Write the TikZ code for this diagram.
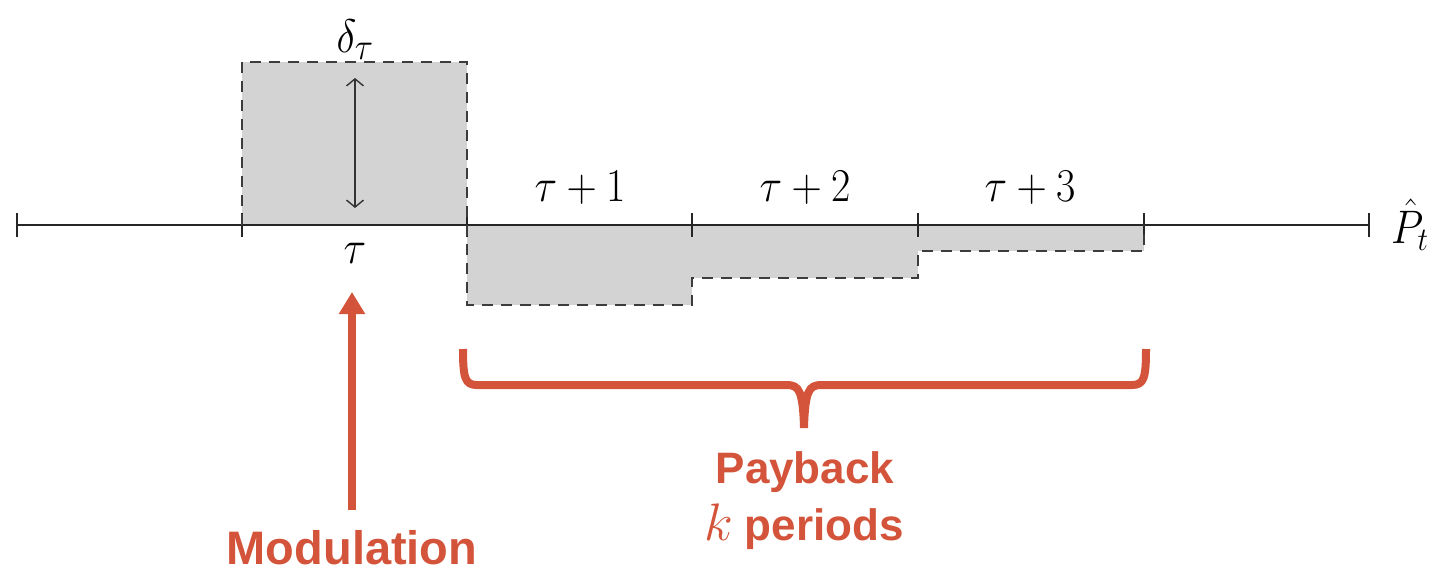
\RequirePackage{fix-cm}
\documentclass[tikz,border=0pt]{standalone}
\usepackage{fontspec}
\newfontfamily\redfont{Liberation Sans}
\usetikzlibrary{arrows.meta}
\definecolor{accent}{RGB}{211,84,58}
\definecolor{blockgray}{RGB}{211,211,211}
\definecolor{edgegray}{RGB}{60,60,60}
\tikzset{
  axisline/.style={line width=2.8pt, draw=black!85},
  tickmark/.style={line width=2.2pt, draw=black!85},
  blockfill/.style={fill=blockgray, draw=none},
  blockedge/.style={draw=edgegray, line width=2.7pt, dash pattern=on 11pt off 8pt},
  mathlabel/.style={font=\fontsize{42}{50}\selectfont, inner sep=0pt, anchor=base},
  redtext/.style={font=\redfont\bfseries\fontsize{44}{55}\selectfont, text=accent, inner sep=0pt, anchor=base},
  redline/.style={draw=accent, line width=8pt},
  deltaarrow/.style={{Straight Barb[length=7pt,width=17pt]}-{Straight Barb[length=7pt,width=17pt]}, line width=1.4pt, draw=black!80},
}
\begin{document}
\begin{tikzpicture}[x=1pt,y=-1pt]
\useasboundingbox (0,0) rectangle (1434,568);
% tick positions
\coordinate (t0) at (17,225);
\coordinate (t1) at (242,225);
\coordinate (t2) at (467,225);
\coordinate (t3) at (692,225);
\coordinate (t4) at (918,225);
\coordinate (t5) at (1144,225);
\coordinate (t6) at (1369,225);
% shaded blocks
\fill[blockfill] (242,62) rectangle (467,225);
\fill[blockfill] (467,225) rectangle (692,305);
\fill[blockfill] (692,225) rectangle (918,278);
\fill[blockfill] (918,225) rectangle (1144,251);
% axis
\draw[axisline] (t0) -- (t6);
\foreach \t in {t0,t1,t2,t3,t4,t5,t6}
  \draw[tickmark] ([yshift=12pt]\t) -- ([yshift=-12pt]\t);
% dashed outline
\draw[blockedge] (242,225) -- (242,62) -- (467,62) -- (467,305) -- (692,305) -- (692,278) -- (918,278) -- (918,251) -- (1144,251) -- (1144,225);
% delta arrow
\coordinate (dtop) at (355,78);
\coordinate (dbot) at (355,208);
\draw[deltaarrow] (dtop) -- (dbot);
% math labels
\node[mathlabel] (delta) at (355,52) {\scalebox{1}[1.12]{$\delta_{\scalebox{1.15}{$\scriptstyle\tau$}}$}};
\node[mathlabel] (tau) at (355,263) {\scalebox{1}[1.12]{$\tau$}};
\node[mathlabel] (tau1) at (580,201) {\scalebox{1}[1.12]{$\tau+1$}};
\node[mathlabel] (tau2) at (805,201) {\scalebox{1}[1.12]{$\tau+2$}};
\node[mathlabel] (tau3) at (1030,201) {\scalebox{1}[1.12]{$\tau+3$}};
\node[mathlabel, anchor=base west] (phat) at (1391,243) {\scalebox{1}[1.12]{$\hat{P}_t$}};
% modulation arrow
\node[redtext, font=\redfont\bfseries\fontsize{47}{55}\selectfont] (mod) at (352,564) {Modulation};
\coordinate (modbase) at (352,510);
\coordinate (modtip) at (352,292);
\draw[redline, -{Triangle[length=22pt,width=25pt]}] (modbase) -- (modtip);
% payback brace
\coordinate (bl) at (463,349);
\coordinate (br) at (1146,349);
\coordinate (bc) at (804,428);
\draw[redline, line join=round] (bl) .. controls (463,378) and (465,385) .. (477,385) -- (787,385) .. controls (799,385) and (803,391) .. (bc);
\draw[redline, line join=round] (br) .. controls (1146,378) and (1144,385) .. (1132,385) -- (821,385) .. controls (809,385) and (805,391) .. (bc);
\node[redtext] (pay) at (805,483) {Payback};
\node[redtext] (kper) at (804,540) {\scalebox{1.2}{$k$} periods};
\end{tikzpicture}
\end{document}
